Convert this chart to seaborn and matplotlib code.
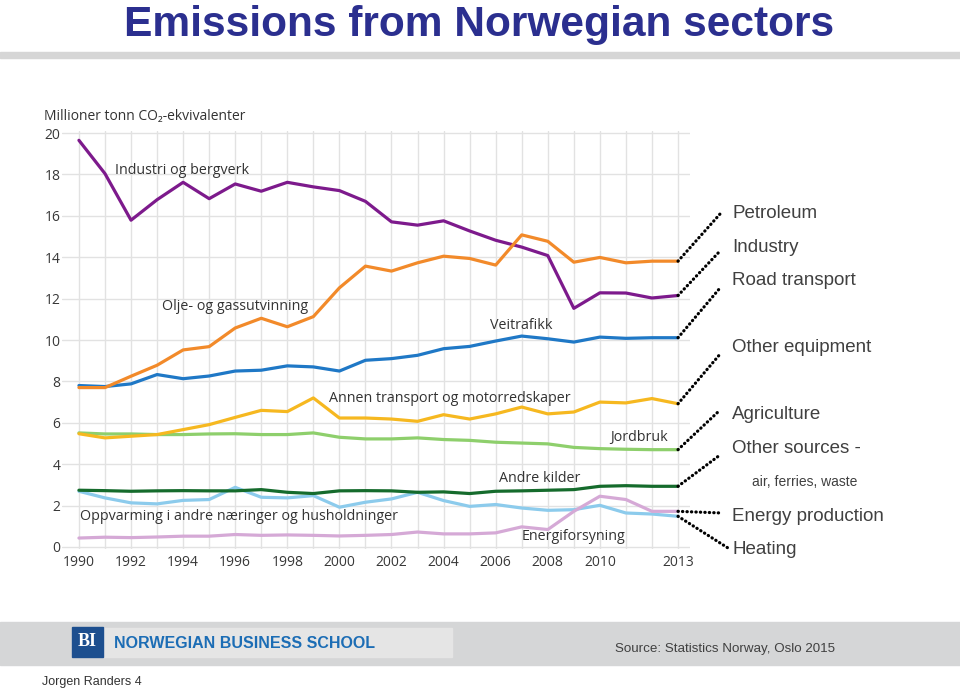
import numpy as np
import pandas as pd
import matplotlib
import matplotlib.pyplot as plt
import seaborn as sns
from matplotlib.patches import Rectangle
from matplotlib.lines import Line2D

matplotlib.use('Agg')

# data (million tonnes CO2-eq)
years = list(range(1990, 2014))
petroleum = [7.7, 7.7, 8.25, 8.78, 9.52, 9.68, 10.58, 11.05, 10.64, 11.13, 12.52, 13.57,
             13.33, 13.73, 14.05, 13.94, 13.62, 15.08, 14.77, 13.76, 13.99, 13.73, 13.81, 13.81]
industry = [19.65, 18.04, 15.79, 16.78, 17.62, 16.83, 17.54, 17.19, 17.62, 17.40, 17.22, 16.70,
            15.71, 15.55, 15.76, 15.27, 14.82, 14.49, 14.08, 11.53, 12.28, 12.27, 12.03, 12.15]
road = [7.8, 7.75, 7.88, 8.33, 8.13, 8.26, 8.50, 8.54, 8.75, 8.70, 8.50, 9.02,
        9.10, 9.26, 9.58, 9.69, 9.95, 10.19, 10.06, 9.90, 10.14, 10.08, 10.11, 10.11]
other_equipment = [5.47, 5.27, 5.35, 5.43, 5.67, 5.91, 6.26, 6.60, 6.54, 7.20, 6.23, 6.23,
                   6.18, 6.07, 6.39, 6.18, 6.43, 6.76, 6.43, 6.52, 7.00, 6.96, 7.17, 6.92]
agriculture = [5.51, 5.46, 5.46, 5.43, 5.43, 5.46, 5.47, 5.43, 5.43, 5.51, 5.30, 5.22,
               5.22, 5.27, 5.19, 5.15, 5.06, 5.02, 4.98, 4.81, 4.75, 4.72, 4.70, 4.70]
other_sources = [2.74, 2.72, 2.69, 2.71, 2.72, 2.71, 2.71, 2.77, 2.64, 2.58, 2.71, 2.72,
                 2.71, 2.64, 2.66, 2.58, 2.69, 2.71, 2.74, 2.77, 2.93, 2.96, 2.93, 2.93]
heating = [2.69, 2.37, 2.13, 2.08, 2.25, 2.29, 2.88, 2.40, 2.37, 2.48, 1.92, 2.16,
           2.32, 2.64, 2.24, 1.96, 2.05, 1.88, 1.77, 1.80, 2.01, 1.64, 1.59, 1.48]
energy = [0.43, 0.47, 0.45, 0.48, 0.52, 0.52, 0.60, 0.56, 0.58, 0.56, 0.53, 0.56,
          0.60, 0.72, 0.63, 0.63, 0.68, 0.97, 0.84, 1.72, 2.45, 2.29, 1.72, 1.72]

series = {'Petroleum': petroleum, 'Industry': industry, 'Road transport': road,
          'Other equipment': other_equipment, 'Agriculture': agriculture,
          'Other sources': other_sources, 'Energy production': energy, 'Heating': heating}
colors = {'Petroleum': '#f28a2a', 'Industry': '#7d1a8c', 'Road transport': '#1f78c6',
          'Other equipment': '#f6b820', 'Agriculture': '#8ecf6c',
          'Other sources': '#156b2c', 'Energy production': '#d5a9d6', 'Heating': '#8ccbec'}

# norwegian labels inside the chart
nor_labels = ['Industri og bergverk', 'Olje- og gassutvinning', 'Veitrafikk',
              'Annen transport og motorredskaper', 'Jordbruk', 'Andre kilder',
              'Oppvarming i andre næringer og husholdninger', 'Energiforsyning']
nor_x = [1991.38, 1993.19, 2005.78, 1999.6, 2010.39, 2006.13, 1990.04, 2007.01]
nor_y = [18.2, 11.6, 10.72, 7.15, 5.27, 3.29, 1.45, 0.48]

# english labels at the right, with connector end points (pixels from top-left)
right_labels = ['Petroleum', 'Industry', 'Road transport', 'Other equipment',
                'Agriculture', 'Other sources -', 'air, ferries, waste',
                'Energy production', 'Heating']
right_label_y = [213.5, 247.5, 280.5, 347.5, 414.5, 448.5, 482, 516.5, 549.5]
conn_series = ['Petroleum', 'Industry', 'Road transport', 'Other equipment',
               'Agriculture', 'Other sources', 'Energy production', 'Heating']
conn_end = [(720, 214), (720, 251), (720, 288), (721, 353), (719, 411), (720, 455),
            (722, 513), (728, 548)]

rows = []
for name, vals in series.items():
    for y, v in zip(years, vals):
        rows.append({'year': y, 'value': v, 'sector': name})
df = pd.DataFrame(rows)

sns.set_style('white')
plt.rcParams['font.family'] = ['Open Sans', 'DejaVu Sans']

W, H = 960, 692
fig = plt.figure(figsize=(W / 100, H / 100), dpi=100)
ax = fig.add_axes([62 / W, 143 / H, 628 / W, 418 / H])

sns.lineplot(data=df, x='year', y='value', hue='sector', palette=colors,
             hue_order=list(series.keys())[::-1], linewidth=2.3, legend=False, ax=ax)

ax.set_xlim(1989.35, 2013.46)
ax.set_ylim(-0.1, 20.1)
ax.set_xticks(years, minor=True)
ax.set_xticks([1990, 1992, 1994, 1996, 1998, 2000, 2002, 2004, 2006, 2008, 2010, 2013])
ax.set_yticks(range(0, 21, 2))
ax.grid(True, which='both', axis='x', color='#e2e2e2', lw=1)
ax.grid(True, axis='y', color='#e2e2e2', lw=1)
ax.set_axisbelow(True)
for s in ax.spines.values():
    s.set_visible(False)
ax.tick_params(which='both', length=0, labelsize=10, colors='#383838')
ax.tick_params(axis='y', pad=1)
ax.tick_params(axis='x', pad=4)
ax.set_xlabel('')
ax.set_ylabel('')

for t, x, y in zip(nor_labels, nor_x, nor_y):
    ax.text(x, y, t, fontsize=10.25, color='#333333', va='center', ha='left')

fig.text(44 / W, 1 - 116 / H, 'Millioner tonn CO₂-ekvivalenter', fontsize=10,
         color='#333333', va='center', ha='left')

# dotted connectors from the last point of each line to its label
to_fig = fig.transFigure.inverted()
for name, (px, py) in zip(conn_series, conn_end):
    x0, y0 = to_fig.transform(ax.transData.transform((2013, series[name][-1])))
    fig.add_artist(Line2D([x0, px / W], [y0, 1 - py / H], transform=fig.transFigure,
                          color='black', lw=2.3, linestyle=(0, (0.1, 1.3)),
                          dash_capstyle='round', solid_capstyle='round'))

for t, y in zip(right_labels, right_label_y):
    small = t.startswith('air')
    fig.text((752 if small else 732) / W, 1 - y / H, t,
             fontsize=10 if small else 13.5, color='#404040', va='center', ha='left',
             family='Liberation Sans')

# title and header rule
fig.text(479 / W, 1 - 36 / H, 'Emissions from Norwegian sectors', fontsize=30.6,
         fontweight='bold', color='#2b2f8f', ha='center', va='baseline',
         family='Liberation Sans')
fig.patches.append(Rectangle((0, 1 - 58 / H), 1, 6 / H, transform=fig.transFigure,
                             color='#d6d6d6', zorder=0))

# footer
fig.patches.append(Rectangle((0, 1 - 665 / H), 1, 43 / H, transform=fig.transFigure,
                             color='#d5d6d7', zorder=0))
fig.patches.append(Rectangle((72 / W, 1 - 657 / H), 380 / W, 29 / H, transform=fig.transFigure,
                             color='#e5e5e5', zorder=1))
fig.patches.append(Rectangle((72 / W, 1 - 657 / H), 31 / W, 30 / H, transform=fig.transFigure,
                             color='#1d4f8f', zorder=2))
fig.text(87.5 / W, 1 - 642 / H, 'BI', fontsize=13, fontweight='bold', color='white',
         ha='center', va='center', family='Liberation Serif', zorder=3)
fig.text(114 / W, 1 - 643 / H, 'NORWEGIAN BUSINESS SCHOOL', fontsize=11.5,
         fontweight='bold', color='#1c6db5', ha='left', va='center', family='Liberation Sans')
fig.text(615 / W, 1 - 649 / H, 'Source: Statistics Norway, Oslo 2015', fontsize=9.6,
         color='#404040', ha='left', va='center', family='Liberation Sans')
fig.text(42 / W, 1 - 682 / H, 'Jorgen Randers 4', fontsize=9, color='#333333',
         ha='left', va='center', family='Liberation Sans')

fig.savefig('out.png', dpi=100)
